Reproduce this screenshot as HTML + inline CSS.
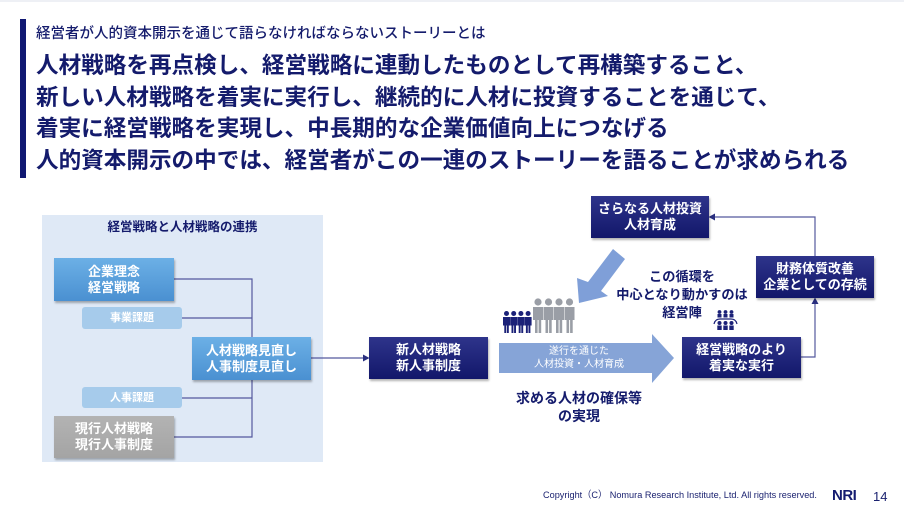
<!DOCTYPE html>
<html><head><meta charset="utf-8">
<style>
*{margin:0;padding:0;box-sizing:border-box}
html,body{width:904px;height:506px;background:#fff;overflow:hidden}
body{position:relative;font-family:"Liberation Sans","Noto Sans CJK JP",sans-serif;color:#141b6c}
.a{position:absolute}
.bar{left:20px;top:19px;width:6px;height:159px;background:#101872}
.sub{left:36px;top:25px;font-size:14.5px;line-height:18px;white-space:nowrap;font-weight:500}
.main{left:36px;top:50px;font-size:22.6px;line-height:31.7px;font-weight:bold;white-space:nowrap}
.panel{left:42px;top:215px;width:281px;height:247px;background:#dfe9f6}
.box{position:absolute;display:flex;align-items:center;justify-content:center;text-align:center;color:#fff;font-weight:bold;font-size:13px;line-height:16px;box-shadow:1px 2px 2px rgba(0,0,0,0.3)}
.blue{background:linear-gradient(#6cb0e6,#4a90d1)}
.lb{background:#a6cbeb;font-size:11px;box-shadow:none;border-radius:3px}
.gray{background:linear-gradient(#b3b3b3,#a4a4a4)}
.navy{background:linear-gradient(#2e348b,#12176a)}
.t{position:absolute;text-align:center;font-weight:bold;white-space:nowrap}
</style></head><body>
<div class="a" style="left:0;top:0;width:904px;height:2px;background:#eef0f5"></div>
<div class="a bar"></div>
<div class="a sub">経営者が人的資本開示を通じて語らなければならないストーリーとは</div>
<div class="a main">人材戦略を再点検し、経営戦略に連動したものとして再構築すること、<br>新しい人材戦略を着実に実行し、継続的に人材に投資することを通じて、<br>着実に経営戦略を実現し、中長期的な企業価値向上につなげる<br>人的資本開示の中では、経営者がこの一連のストーリーを語ることが求められる</div>

<div class="a panel"></div>
<div class="t" style="left:42px;width:281px;top:219px;font-size:12.5px;line-height:16px">経営戦略と人材戦略の連携</div>

<svg class="a" style="left:0;top:0" width="904" height="506" viewBox="0 0 904 506">
 <g stroke="#55599e" stroke-width="1.2" fill="none">
  <path d="M174 279H252V337"/>
  <path d="M182 318H252"/>
  <path d="M252 380V437H174"/>
  <path d="M182 398H252"/>
  <path d="M311 358H364"/>
  <path d="M801 357H815V303"/>
  <path d="M815 256V217H714"/>
 </g>
 <g fill="#2a2f80">
  <polygon points="363,354.5 369.5,358 363,361.5"/>
  <polygon points="811.5,304 815,297.5 818.5,304"/>
  <polygon points="715,213.5 708.5,217 715,220.5"/>
 </g>
 <polygon fill="#86a4d7" points="499,343 652,343 652,334 674,358 652,383 652,373 499,373"/>
 <polygon fill="#7f9fd8" points="579,303 577,278 588,282 613,249 625,259 601,291 608,296"/>
 <!-- gray people -->
 <g fill="#9a9ea6">
  <circle cx="538" cy="302" r="3.6"/><circle cx="548.5" cy="302" r="3.6"/><circle cx="559" cy="302" r="3.6"/><circle cx="569.5" cy="302" r="3.6"/>
  <rect x="533" y="307" width="10" height="13"/><rect x="543.5" y="307" width="10" height="13"/><rect x="554" y="307" width="10" height="13"/><rect x="564.5" y="307" width="10" height="13"/>
  <rect x="535" y="319" width="2.6" height="14"/><rect x="538.6" y="319" width="2.6" height="14"/>
  <rect x="545.5" y="319" width="2.6" height="14"/><rect x="549.1" y="319" width="2.6" height="14"/>
  <rect x="556" y="319" width="2.6" height="14"/><rect x="559.6" y="319" width="2.6" height="14"/>
  <rect x="566.5" y="319" width="2.6" height="14"/><rect x="570.1" y="319" width="2.6" height="14"/>
 </g>
 <!-- navy people -->
 <g fill="#1b2178">
  <circle cx="506.5" cy="313.5" r="2.5"/><circle cx="513.7" cy="313.5" r="2.5"/><circle cx="520.9" cy="313.5" r="2.5"/><circle cx="528.1" cy="313.5" r="2.5"/>
  <rect x="503" y="317" width="7" height="8.5"/><rect x="510.2" y="317" width="7" height="8.5"/><rect x="517.4" y="317" width="7" height="8.5"/><rect x="524.6" y="317" width="7" height="8.5"/>
  <rect x="504.3" y="325" width="1.9" height="8"/><rect x="506.9" y="325" width="1.9" height="8"/>
  <rect x="511.5" y="325" width="1.9" height="8"/><rect x="514.1" y="325" width="1.9" height="8"/>
  <rect x="518.7" y="325" width="1.9" height="8"/><rect x="521.3" y="325" width="1.9" height="8"/>
  <rect x="525.9" y="325" width="1.9" height="8"/><rect x="528.5" y="325" width="1.9" height="8"/>
 </g>
 <!-- meeting icon -->
 <g fill="#1b2178">
  <circle cx="719.5" cy="312" r="1.9"/><circle cx="725.5" cy="312" r="1.9"/><circle cx="731.5" cy="312" r="1.9"/>
  <rect x="717.5" y="314" width="4" height="3.5"/><rect x="723.5" y="314" width="4" height="3.5"/><rect x="729.5" y="314" width="4" height="3.5"/>
  <circle cx="719.5" cy="323" r="2"/><circle cx="725.5" cy="323" r="2"/><circle cx="731.5" cy="323" r="2"/>
  <rect x="717.3" y="325.5" width="4.4" height="4.5"/><rect x="723.3" y="325.5" width="4.4" height="4.5"/><rect x="729.3" y="325.5" width="4.4" height="4.5"/>
 </g>
 <path d="M714 324 Q715 319 720 319 H731 Q736 319 737 324" stroke="#1b2178" stroke-width="1.2" fill="none"/>
</svg>

<div class="box blue" style="left:54px;top:258px;width:120px;height:43px">企業理念<br>経営戦略</div>
<div class="box lb" style="left:82px;top:307px;width:100px;height:22px">事業課題</div>
<div class="box blue" style="left:192px;top:337px;width:119px;height:43px">人材戦略見直し<br>人事制度見直し</div>
<div class="box lb" style="left:82px;top:387px;width:100px;height:21px">人事課題</div>
<div class="box gray" style="left:54px;top:416px;width:120px;height:42px">現行人材戦略<br>現行人事制度</div>

<div class="box navy" style="left:369px;top:337px;width:119px;height:42px">新人材戦略<br>新人事制度</div>
<div class="box navy" style="left:591px;top:196px;width:118px;height:42px">さらなる人材投資<br>人材育成</div>
<div class="box navy" style="left:756px;top:256px;width:118px;height:42px">財務体質改善<br>企業としての存続</div>
<div class="box navy" style="left:682px;top:337px;width:119px;height:41px">経営戦略のより<br>着実な実行</div>

<div class="t" style="left:499px;width:160px;top:344.5px;font-size:10px;line-height:13px;color:#fff;font-weight:normal">遂行を通じた<br>人材投資・人材育成</div>
<div class="t" style="left:479px;width:200px;top:389px;font-size:14px;line-height:18px">求める人材の確保等<br>の実現</div>
<div class="t" style="left:602px;width:160px;top:268px;font-size:13.2px;line-height:18px">この循環を<br>中心となり動かすのは<br>経営陣</div>

<div class="a" style="left:543px;top:490px;font-size:9.6px;line-height:12px;white-space:nowrap;color:#1b2270;transform:scaleX(0.955);transform-origin:left center">Copyright（C） Nomura Research Institute, Ltd. All rights reserved.</div>
<div class="a" style="left:832px;top:487px;font-size:15px;line-height:17px;font-weight:bold;color:#141b70;letter-spacing:-0.5px">NRI</div>
<div class="a" style="left:873px;top:489px;font-size:13px;line-height:15px;color:#1b2270">14</div>
</body></html>
